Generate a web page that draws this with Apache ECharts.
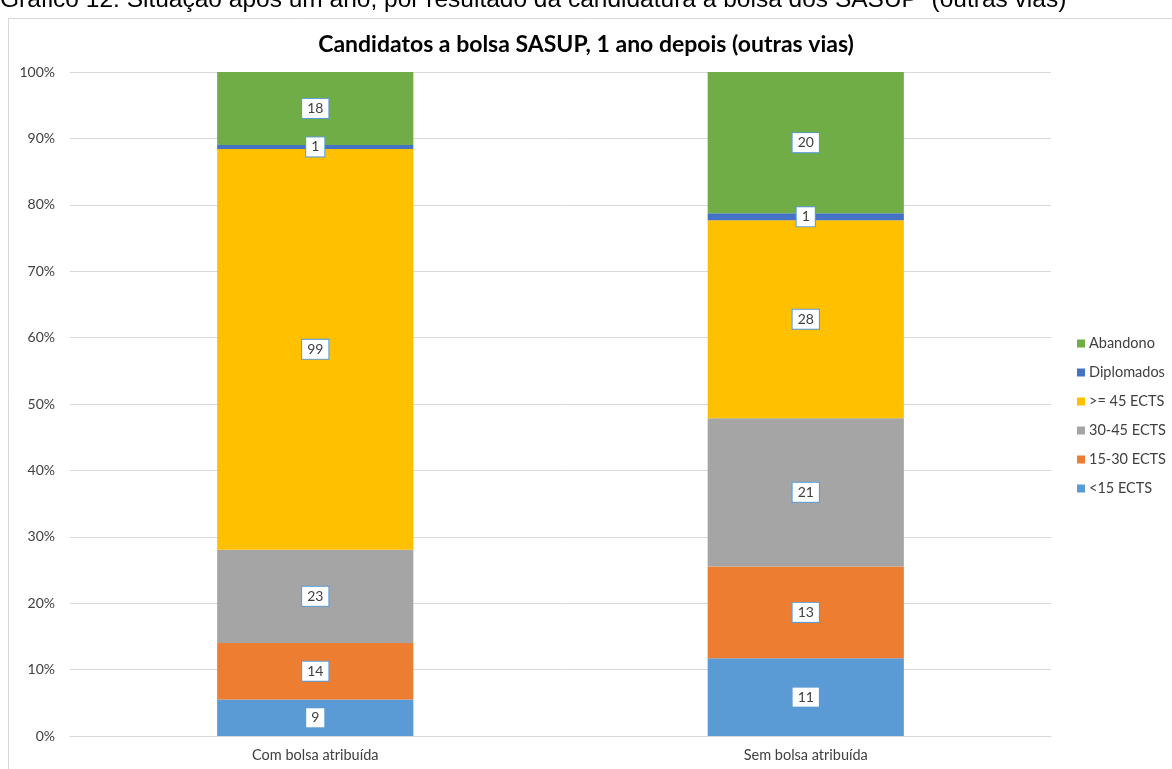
<!DOCTYPE html>
<html>
<head>
<meta charset="utf-8">
<script src="https://cdn.jsdelivr.net/npm/echarts@6/dist/echarts.min.js"></script>
<style>
  html, body { margin: 0; padding: 0; background: #fff; }
  #chart { width: 1172px; height: 769px; }
</style>
</head>
<body>
<div id="chart"></div>
<script>
'use strict'
// dados
const categorias = ['Com bolsa atribuída', 'Sem bolsa atribuída'];
const nomesSeries = ['<15 ECTS', '15-30 ECTS', '30-45 ECTS', '>= 45 ECTS', 'Diplomados', 'Abandono'];
const menos15 = [9, 11];
const de15a30 = [14, 13];
const de30a45 = [23, 21];
const mais45 = [99, 28];
const diplomados = [1, 1];
const abandono = [18, 20];
const yTicks = [0, 10, 20, 30, 40, 50, 60, 70, 80, 90, 100];

const contagens = [menos15, de15a30, de30a45, mais45, diplomados, abandono];
const cores = ['#5B9BD5', '#ED7D31', '#A5A5A5', '#FFC000', '#4472C4', '#70AD47'];
const totais = categorias.map((c, i) => contagens.reduce((s, arr) => s + arr[i], 0));

const fonte = 'Lato';

let option = {
  animation: false,
  color: cores,
  title: {
    text: 'Candidatos a bolsa SASUP, 1 ano depois (outras vias)',
    left: 'center',
    top: 28,
    textStyle: { fontFamily: fonte, fontSize: 23, fontWeight: 'bold', color: '#000' }
  },
  graphic: [
    {
      type: 'rect',
      shape: { x: 8.5, y: 18.5, width: 1300, height: 900 },
      style: { fill: 'none', stroke: '#D9D9D9', lineWidth: 1 },
      silent: true
    },
    {
      type: 'text',
      left: 0,
      top: -12,
      style: {
        text: 'Gráfico 12: Situação após um ano, por resultado da candidatura à bolsa dos SASUP  (outras vias)',
        font: '24.5px "Liberation Sans"',
        fill: '#000'
      }
    }
  ],
  legend: {
    orient: 'vertical',
    left: 1072,
    top: 331,
    itemWidth: 8,
    itemHeight: 8,
    itemGap: 14,
    icon: 'rect',
    data: nomesSeries.slice().reverse(),
    textStyle: { fontFamily: fonte, fontSize: 14.5, color: '#404040', padding: [0, 0, 0, -1] }
  },
  grid: { left: 70, right: 121, top: 72, bottom: 33, containLabel: false },
  xAxis: {
    type: 'category',
    data: categorias,
    axisTick: { show: false },
    axisLine: { lineStyle: { color: '#D9D9D9', width: 1 } },
    axisLabel: { fontFamily: fonte, fontSize: 14.5, color: '#404040', margin: 12 }
  },
  yAxis: {
    type: 'value',
    min: yTicks[0],
    max: yTicks[yTicks.length - 1],
    interval: 10,
    splitLine: { lineStyle: { color: '#D9D9D9', width: 1 } },
    axisLine: { show: false },
    axisTick: { show: false },
    axisLabel: { fontFamily: fonte, fontSize: 14, color: '#404040', margin: 15, formatter: v => v + '%' }
  },
  series: nomesSeries.map((nome, k) => ({
    name: nome,
    type: 'bar',
    stack: 'total',
    barWidth: '40%',
    data: contagens[k].map((v, i) => v / totais[i] * 100),
    label: {
      show: true,
      position: 'inside',
      formatter: p => String(contagens[k][p.dataIndex]),
      fontFamily: fonte,
      fontSize: 14,
      color: '#404040',
      backgroundColor: '#fff',
      borderColor: '#5B9BD5',
      borderWidth: 1,
      padding: [3, 5, 2, 5]
    }
  }))
};

let myChart = echarts.init(document.getElementById('chart'));
myChart.setOption(option);
</script>
</body>
</html>
